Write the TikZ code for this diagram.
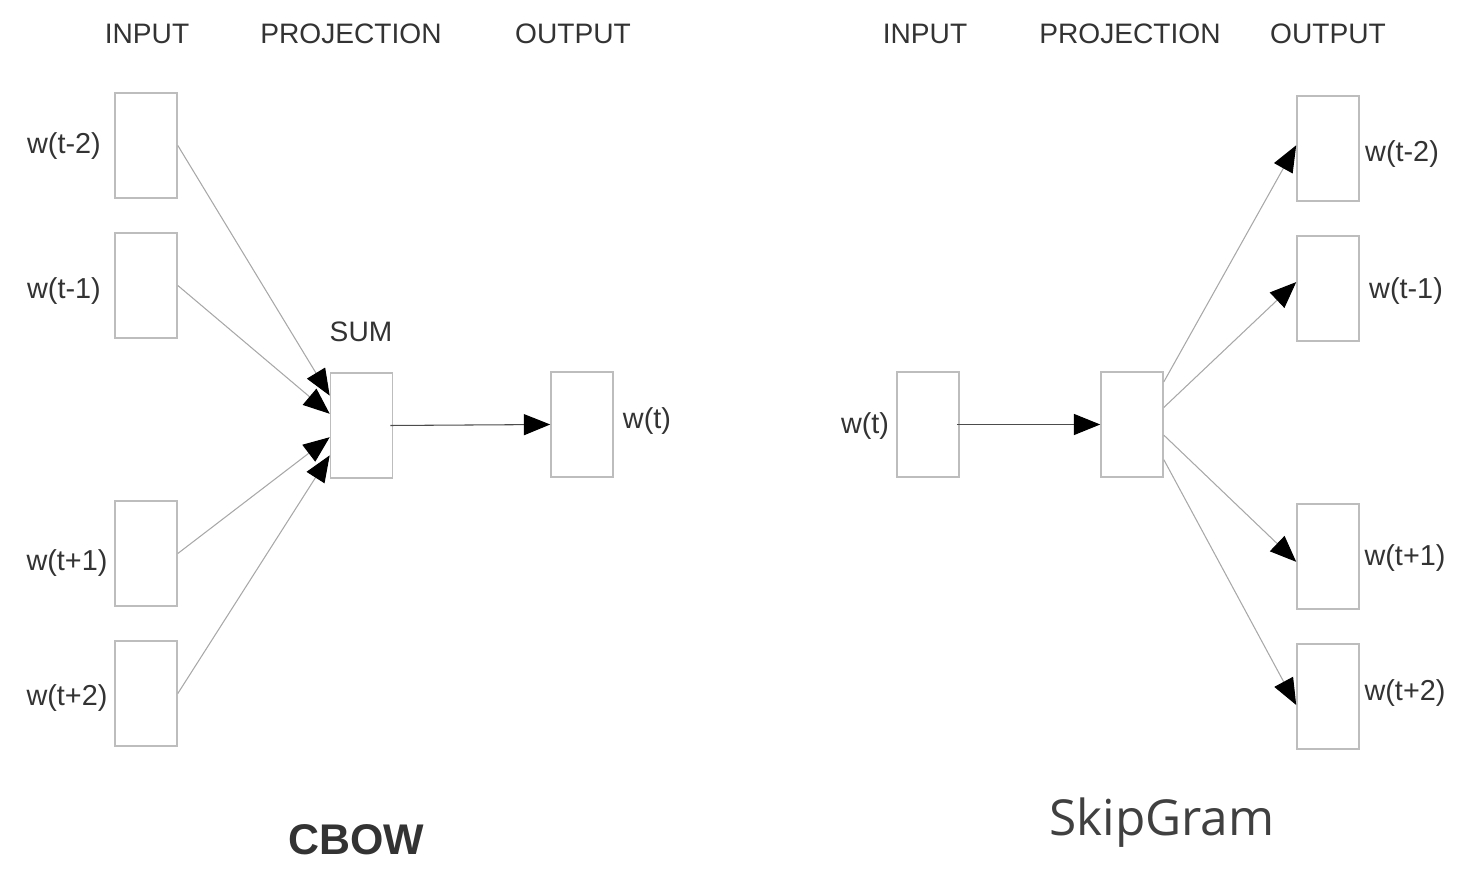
\documentclass[tikz,border=0pt]{standalone}
\usepackage{fontspec}
\setmainfont{Liberation Sans}
\newfontfamily\sgfont{Open Sans}
\usetikzlibrary{arrows.meta,calc}
\definecolor{boxgray}{HTML}{BDBDBD}
\definecolor{linegray}{HTML}{A8A8A8}
\definecolor{txt}{HTML}{333333}
\begin{document}
\begin{tikzpicture}[x=0.01cm,y=-0.01cm,
  wbox/.style={draw=boxgray,line width=0.45pt,minimum width=0.62cm,minimum height=1.05cm,inner sep=0pt},
  hdr/.style={font=\fontsize{8}{9}\selectfont,text=txt,inner sep=0pt},
  lbl/.style={font=\fontsize{8.2}{9}\selectfont,text=txt,inner sep=0pt},
  conn/.style={draw=linegray,line width=0.3pt,-{Triangle[length=7.5pt,width=6pt,fill=black,color=black]}},
  hconn/.style={draw=black!70,line width=0.3pt,-{Triangle[length=7.5pt,width=6pt,fill=black,color=black]}}]
\useasboundingbox (0,0) rectangle (1474,871);
% headers
\node[hdr] (h1) at (147,34) {INPUT};
\node[hdr] (h2) at (351,34) {PROJECTION};
\node[hdr] (h3) at (573,34) {OUTPUT};
\node[hdr] (h4) at (925,34) {INPUT};
\node[hdr] (h5) at (1130,34) {PROJECTION};
\node[hdr] (h6) at (1328,34) {OUTPUT};
% CBOW boxes
\node[wbox] (i1) at (146,145.5) {};
\node[wbox] (i2) at (146,285.5) {};
\node[wbox] (i3) at (146,553.5) {};
\node[wbox] (i4) at (146,693.5) {};
\node[wbox] (sum) at (361.5,425.5) {};
\node[wbox] (out) at (582,424.5) {};
\node[lbl] (l1) at (64,146) {w(t-2)};
\node[lbl] (l2) at (64,291) {w(t-1)};
\node[lbl] (l3) at (67,563) {w(t+1)};
\node[lbl] (l4) at (67,698) {w(t+2)};
\node[hdr] (sl) at (361,332) {SUM};
\node[lbl] (lo) at (647,421) {w(t)};
\draw[conn] (i1.east) -- ($(sum.north west)!0.22!(sum.south west)$);
\draw[conn] (i2.east) -- ($(sum.north west)!0.39!(sum.south west)$);
\draw[conn] (i3.east) -- ($(sum.north west)!0.61!(sum.south west)$);
\draw[conn] (i4.east) -- ($(sum.north west)!0.78!(sum.south west)$);
\draw[hconn] ($(sum.east)+(-3,0)$) -- (out.west);
\node[font=\bfseries\fontsize{12.2}{14}\selectfont,text=txt,inner sep=0pt] (cbow) at (356,840) {CBOW};
% SkipGram
\node[wbox] (si) at (928,424.5) {};
\node[wbox] (sp) at (1132,424.5) {};
\node[wbox] (o1) at (1328,148.5) {};
\node[wbox] (o2) at (1328,288.5) {};
\node[wbox] (o3) at (1328,556.5) {};
\node[wbox] (o4) at (1328,696.5) {};
\node[lbl] (sli) at (865,426) {w(t)};
\node[lbl] (r1) at (1402,154) {w(t-2)};
\node[lbl] (r2) at (1406,291) {w(t-1)};
\node[lbl] (r3) at (1405,558) {w(t+1)};
\node[lbl] (r4) at (1405,693) {w(t+2)};
\draw[hconn] ($(si.east)+(-3,0)$) -- (sp.west);
\draw[conn] ($(sp.north east)!0.1!(sp.south east)$) -- ($(o1.north west)!0.47!(o1.south west)$);
\draw[conn] ($(sp.north east)!0.34!(sp.south east)$) -- ($(o2.north west)!0.44!(o2.south west)$);
\draw[conn] ($(sp.north east)!0.6!(sp.south east)$) -- ($(o3.north west)!0.55!(o3.south west)$);
\draw[conn] ($(sp.north east)!0.83!(sp.south east)$) -- ($(o4.north west)!0.58!(o4.south west)$);
\node[font=\sgfont\fontsize{14.1}{17}\selectfont,text=black!75,inner sep=0pt] (sg) at (1162,823) {SkipGram};
\end{tikzpicture}
\end{document}
